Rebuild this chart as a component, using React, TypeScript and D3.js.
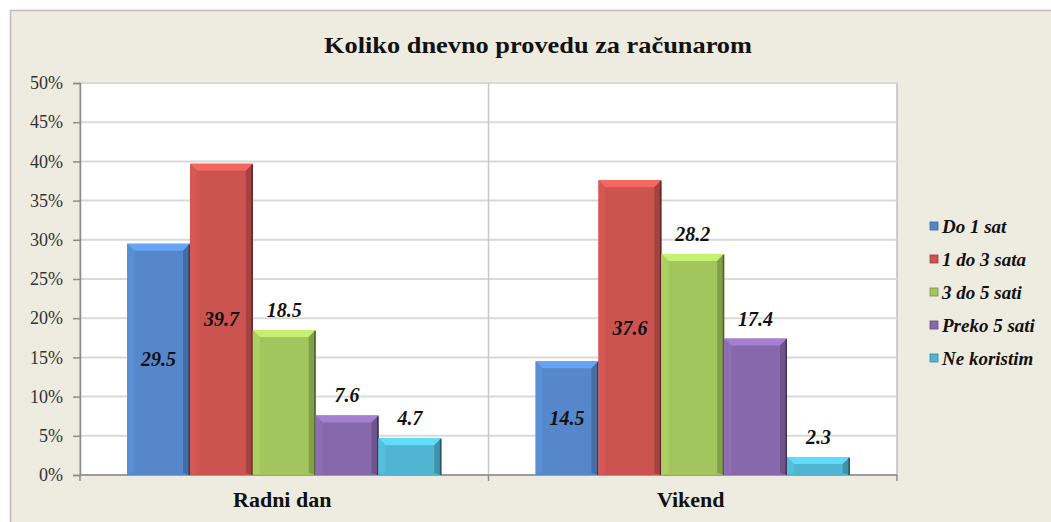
import React, { useRef, useEffect } from 'react'
import * as d3 from 'd3'

const categories = ['Radni dan', 'Vikend']
const seriesNames = ['Do 1 sat', '1 do 3 sata', '3 do 5 sati', 'Preko 5 sati', 'Ne koristim']
const radniDan = [29.5, 39.7, 18.5, 7.6, 4.7]
const vikend = [14.5, 37.6, 28.2, 17.4, 2.3]
const seriesColors = ['#5587CA', '#CB5350', '#A3C55E', '#8868AC', '#4FB5D0']
const labelInside = [true, true, false, false, false]
const yTicks = [0, 5, 10, 15, 20, 25, 30, 35, 40, 45, 50]

const W = 1051
const H = 522

const App = () => {
  const svgRef = useRef<SVGSVGElement>(null)

  useEffect(() => {
    const svg = d3.select(svgRef.current)
    svg.selectAll('*').remove()

    const left = 80, right = 897, top = 83, bottom = 475
    const serif = 'Liberation Serif, Times New Roman, serif'

    // background frame
    svg.append('rect').attr('x', 10.5).attr('y', 10.5).attr('width', W + 20).attr('height', H + 20)
      .attr('fill', '#EEEBE0').attr('stroke', '#BDBDBD').attr('stroke-width', 1.5)

    svg.append('text').attr('x', 538).attr('y', 53).attr('text-anchor', 'middle')
      .attr('textLength', 428).attr('lengthAdjust', 'spacingAndGlyphs')
      .style('font-family', serif).style('font-weight', 'bold').style('font-size', '24px').attr('fill', '#111')
      .text('Koliko dnevno provedu za računarom')

    const y = d3.scaleLinear().domain([0, 50]).range([bottom, top])
    const x0 = d3.scaleBand().domain(categories).range([left, right])
    const x1 = d3.scaleBand().domain(seriesNames).range([0, x0.bandwidth()]).paddingInner(0).paddingOuter(0.75)

    // plot area
    svg.append('rect').attr('x', left).attr('y', top).attr('width', right - left).attr('height', bottom - top)
      .attr('fill', '#fff').attr('stroke', '#BFBFBF').attr('stroke-width', 1.5)

    svg.append('g').selectAll('line').data(yTicks.slice(1)).join('line')
      .attr('x1', left).attr('x2', right).attr('y1', d => y(d)).attr('y2', d => y(d))
      .attr('stroke', '#D9D9D9').attr('stroke-width', 2)

    svg.append('line').attr('x1', x0('Vikend')!).attr('x2', x0('Vikend')!).attr('y1', top).attr('y2', bottom)
      .attr('stroke', '#C8C8C8').attr('stroke-width', 1.5)

    // y axis
    const yAxis = d3.axisLeft(y).tickValues(yTicks).tickSize(7).tickPadding(10).tickFormat(d => `${d}%`)
    const ga = svg.append('g').attr('transform', `translate(${left},0)`).call(yAxis)
    ga.attr('font-family', null).attr('font-size', null)
    ga.select('.domain').attr('stroke', '#8C8C8C').attr('stroke-width', 1.5)
    ga.selectAll('.tick line').attr('stroke', '#8C8C8C').attr('stroke-width', 1.5)
    ga.selectAll('.tick text').style('font-family', serif).style('font-size', '18px').attr('fill', '#333')

    // x axis
    const gx = svg.append('g')
    gx.append('line').attr('x1', left).attr('x2', right).attr('y1', bottom).attr('y2', bottom)
      .attr('stroke', '#8C8C8C').attr('stroke-width', 1.5)
    gx.selectAll('line.t').data([left, x0('Vikend')!, right]).join('line').attr('class', 't')
      .attr('x1', d => d).attr('x2', d => d).attr('y1', bottom).attr('y2', bottom + 6)
      .attr('stroke', '#8C8C8C').attr('stroke-width', 1.5)
    gx.selectAll('text').data(categories).join('text')
      .attr('x', d => x0(d)! + x0.bandwidth() / 2 - 2).attr('y', 507).attr('text-anchor', 'middle')
      .style('font-family', serif).style('font-weight', 'bold').style('font-size', '22px').attr('fill', '#111')
      .text(d => d)

    const tables = [radniDan, vikend]
    const rows = categories.flatMap((c, ci) => seriesNames.map((s, si) => ({ c, s, si, v: tables[ci][si] })))

    const bw = x1.bandwidth()
    const bv = 7
    const g = svg.append('g')
    rows.forEach(r => {
      const bx = x0(r.c)! + x1(r.s)!
      const by = y(r.v)
      const bh = bottom - by
      const base = d3.color(seriesColors[r.si])!
      const b = Math.min(bv, bh / 2)
      const gb = g.append('g')
      gb.append('rect').attr('x', bx).attr('y', by).attr('width', bw).attr('height', bh).attr('fill', base.toString())
      gb.append('polygon').attr('points', `${bx},${by} ${bx + bw},${by} ${bx + bw - b},${by + b} ${bx + b},${by + b}`)
        .attr('fill', base.brighter(0.55).toString())
      gb.append('polygon').attr('points', `${bx},${by} ${bx + b},${by + b} ${bx + b},${bottom - 2} ${bx},${bottom}`)
        .attr('fill', base.brighter(0.15).toString())
      gb.append('polygon').attr('points', `${bx + bw},${by} ${bx + bw},${bottom} ${bx + bw - b},${bottom - 2} ${bx + bw - b},${by + b}`)
        .attr('fill', base.darker(0.6).toString())
      gb.append('line').attr('x1', bx + bw - 0.75).attr('x2', bx + bw - 0.75).attr('y1', by + 1).attr('y2', bottom)
        .attr('stroke', base.darker(2).toString()).attr('stroke-width', 1.5)

      const ly = labelInside[r.si] ? by + bh / 2 : by - 20
      g.append('text').attr('x', bx + bw / 2).attr('y', ly).attr('dy', '0.35em').attr('text-anchor', 'middle')
        .style('font-family', serif).style('font-weight', 'bold').style('font-style', 'italic').style('font-size', '20px')
        .attr('fill', '#111').text(r.v.toFixed(1))
    })

    // legend
    const lg = svg.append('g').attr('transform', 'translate(930,226)')
    seriesNames.forEach((s, i) => {
      const c = d3.color(seriesColors[i])!
      lg.append('rect').attr('x', 0).attr('y', i * 33 - 4).attr('width', 8).attr('height', 8)
        .attr('fill', c.toString()).attr('stroke', c.darker(0.8).toString()).attr('stroke-width', 0.8)
      lg.append('text').attr('x', 12).attr('y', i * 33).attr('dy', '0.35em')
        .style('font-family', serif).style('font-weight', 'bold').style('font-style', 'italic').style('font-size', '19px')
        .attr('fill', '#111').text(s)
    })
  }, [])

  return (
    <svg ref={svgRef} width={W} height={H} style={{ position: 'absolute', left: 0, top: 0 }} />
  )
}

export default App
